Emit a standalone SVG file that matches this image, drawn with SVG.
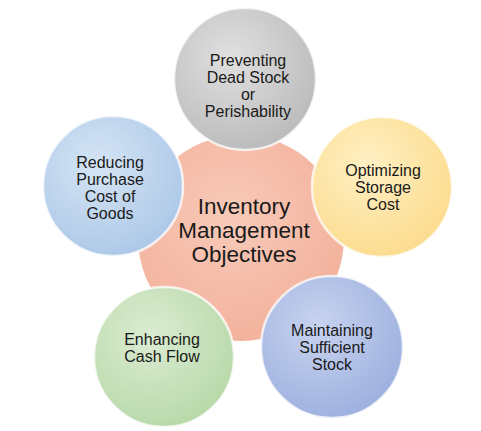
<svg xmlns="http://www.w3.org/2000/svg" width="481" height="431" viewBox="0 0 481 431">
<style>
text{font-family:"Liberation Sans",Arial,sans-serif;fill:#1a1a1a;text-anchor:middle}
.n{font-size:16px}
.c{font-size:22.5px}
.ring{stroke:#ffffff;stroke-opacity:0.75;stroke-width:2.5}
</style>
<defs>
<radialGradient id="gc" cx="0.45" cy="0.4" r="0.65"><stop offset="0" stop-color="#f9cab9"/><stop offset="1" stop-color="#f2b09a"/></radialGradient>
<radialGradient id="gg" cx="0.4" cy="0.35" r="0.7"><stop offset="0" stop-color="#e0e0e0"/><stop offset="1" stop-color="#bababa"/></radialGradient>
<radialGradient id="gy" cx="0.4" cy="0.35" r="0.7"><stop offset="0" stop-color="#fff0c4"/><stop offset="1" stop-color="#fcdb8c"/></radialGradient>
<radialGradient id="gb" cx="0.4" cy="0.35" r="0.7"><stop offset="0" stop-color="#d6e5f5"/><stop offset="1" stop-color="#abc7e7"/></radialGradient>
<radialGradient id="gr" cx="0.4" cy="0.35" r="0.7"><stop offset="0" stop-color="#dbecd2"/><stop offset="1" stop-color="#b7d8a8"/></radialGradient>
<radialGradient id="gp" cx="0.4" cy="0.35" r="0.7"><stop offset="0" stop-color="#c8d3ef"/><stop offset="1" stop-color="#9cafde"/></radialGradient>
</defs>
<rect width="481" height="431" fill="#ffffff"/>
<g id="center">
<circle cx="241" cy="238" r="103" fill="url(#gc)"/>
<text class="c" x="244" y="214">Inventory</text>
<text class="c" x="244" y="238">Management</text>
<text class="c" x="244" y="262">Objectives</text>
</g>
<g id="connectors"></g>
<g id="n-preventing">
<circle class="ring" cx="245" cy="79" r="71" fill="url(#gg)"/>
<text class="n" x="248" y="66">Preventing</text>
<text class="n" x="248" y="83">Dead Stock</text>
<text class="n" x="248" y="100">or</text>
<text class="n" x="248" y="117">Perishability</text>
</g>
<g id="n-optimizing">
<circle class="ring" cx="382" cy="187" r="70" fill="url(#gy)"/>
<text class="n" x="383" y="176">Optimizing</text>
<text class="n" x="383" y="193">Storage</text>
<text class="n" x="383" y="210">Cost</text>
</g>
<g id="n-reducing">
<circle class="ring" cx="113" cy="186" r="70" fill="url(#gb)"/>
<text class="n" x="110" y="168">Reducing</text>
<text class="n" x="110" y="185">Purchase</text>
<text class="n" x="110" y="202">Cost of</text>
<text class="n" x="110" y="219">Goods</text>
</g>
<g id="n-enhancing">
<circle class="ring" cx="164" cy="357" r="70" fill="url(#gr)"/>
<text class="n" x="162" y="345">Enhancing</text>
<text class="n" x="162" y="362">Cash Flow</text>
</g>
<g id="n-maintaining">
<circle class="ring" cx="332" cy="347" r="71" fill="url(#gp)"/>
<text class="n" x="332" y="336">Maintaining</text>
<text class="n" x="332" y="353">Sufficient</text>
<text class="n" x="332" y="370">Stock</text>
</g>
</svg>
